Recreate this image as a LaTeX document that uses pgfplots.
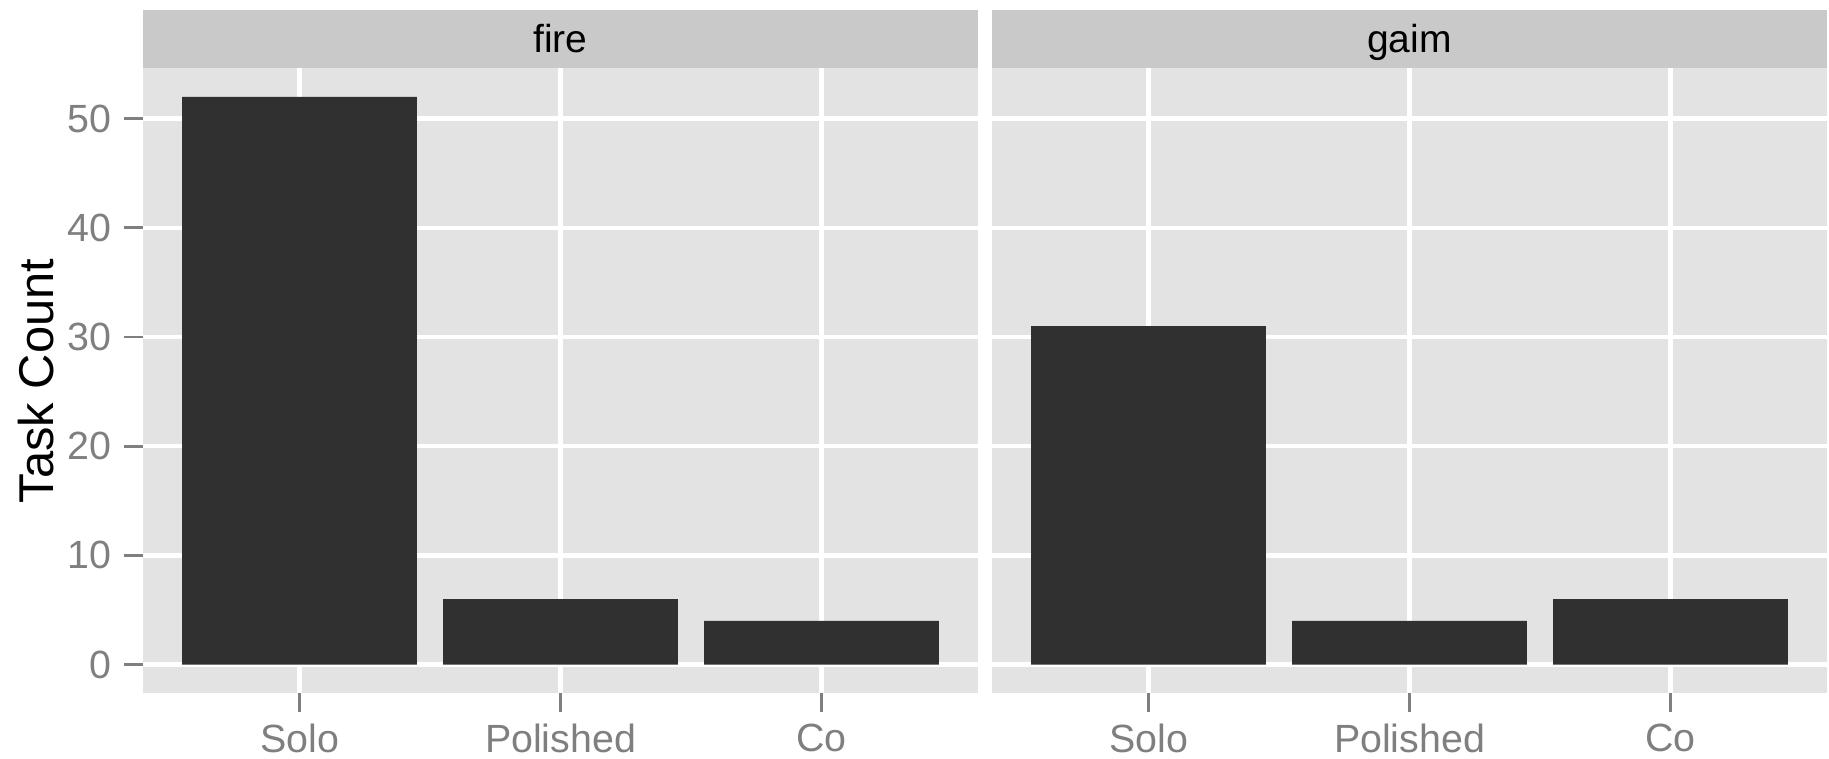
\documentclass[border=0pt]{standalone}
\usepackage{fontspec}
\setmainfont{Liberation Sans}
\usepackage{pgfplots}
\pgfplotsset{compat=1.18}

\definecolor{panelbg}{HTML}{E3E3E3}
\definecolor{stripbg}{HTML}{C9C9C9}
\definecolor{barfill}{HTML}{303030}
\definecolor{ticktext}{HTML}{7F7F7F}

\pgfplotsset{
  facet/.style={
    scale only axis, width=83.5mm, height=62.46mm,
    xmin=0.4, xmax=3.6, ymin=-2.6, ymax=54.6,
    axis background/.style={fill=panelbg},
    axis line style={draw=none},
    grid=major, major grid style={white, line width=1.3pt},
    xtick={1,2,3}, xticklabels={Solo,Polished,Co},
    ytick={0,10,20,30,40,50},
    tick pos=left, tick align=outside, major tick length=1.9mm,
    tick style={ticktext, line width=0.8pt},
    ticklabel style={font=\fontsize{11.2}{13}\selectfont, text=ticktext},
    /pgf/number format/assume math mode=true,
    ybar, bar width=0.9,
  }
}

\begin{document}
\begin{tikzpicture}
  \useasboundingbox (0,0) rectangle (182.9mm,75.9mm);

  % strips
  \fill[stripbg] (14.3mm,69.0mm) rectangle (97.8mm,74.9mm);
  \fill[stripbg] (99.2mm,69.0mm) rectangle (182.7mm,74.9mm);
  \node[anchor=base, font=\fontsize{11.1}{13}\selectfont] at (56.05mm,70.6mm) {fire};
  \node[anchor=base, font=\fontsize{11.1}{13}\selectfont] at (140.95mm,70.6mm) {gaim};

  % y label
  \node[rotate=90, anchor=base, font=\fontsize{13.9}{16}\selectfont] at (5.3mm,37.8mm) {Task Count};

  % fire
  \begin{axis}[facet, at={(14.3mm,6.6mm)}, anchor=south west]
    \addplot[fill=barfill, draw=none] coordinates {(1,52) (2,6) (3,4)};
  \end{axis}

  % gaim
  \begin{axis}[facet, at={(99.2mm,6.6mm)}, anchor=south west,
      yticklabels={}, y tick style={draw=none}]
    \addplot[fill=barfill, draw=none] coordinates {(1,31) (2,4) (3,6)};
  \end{axis}
\end{tikzpicture}
\end{document}
